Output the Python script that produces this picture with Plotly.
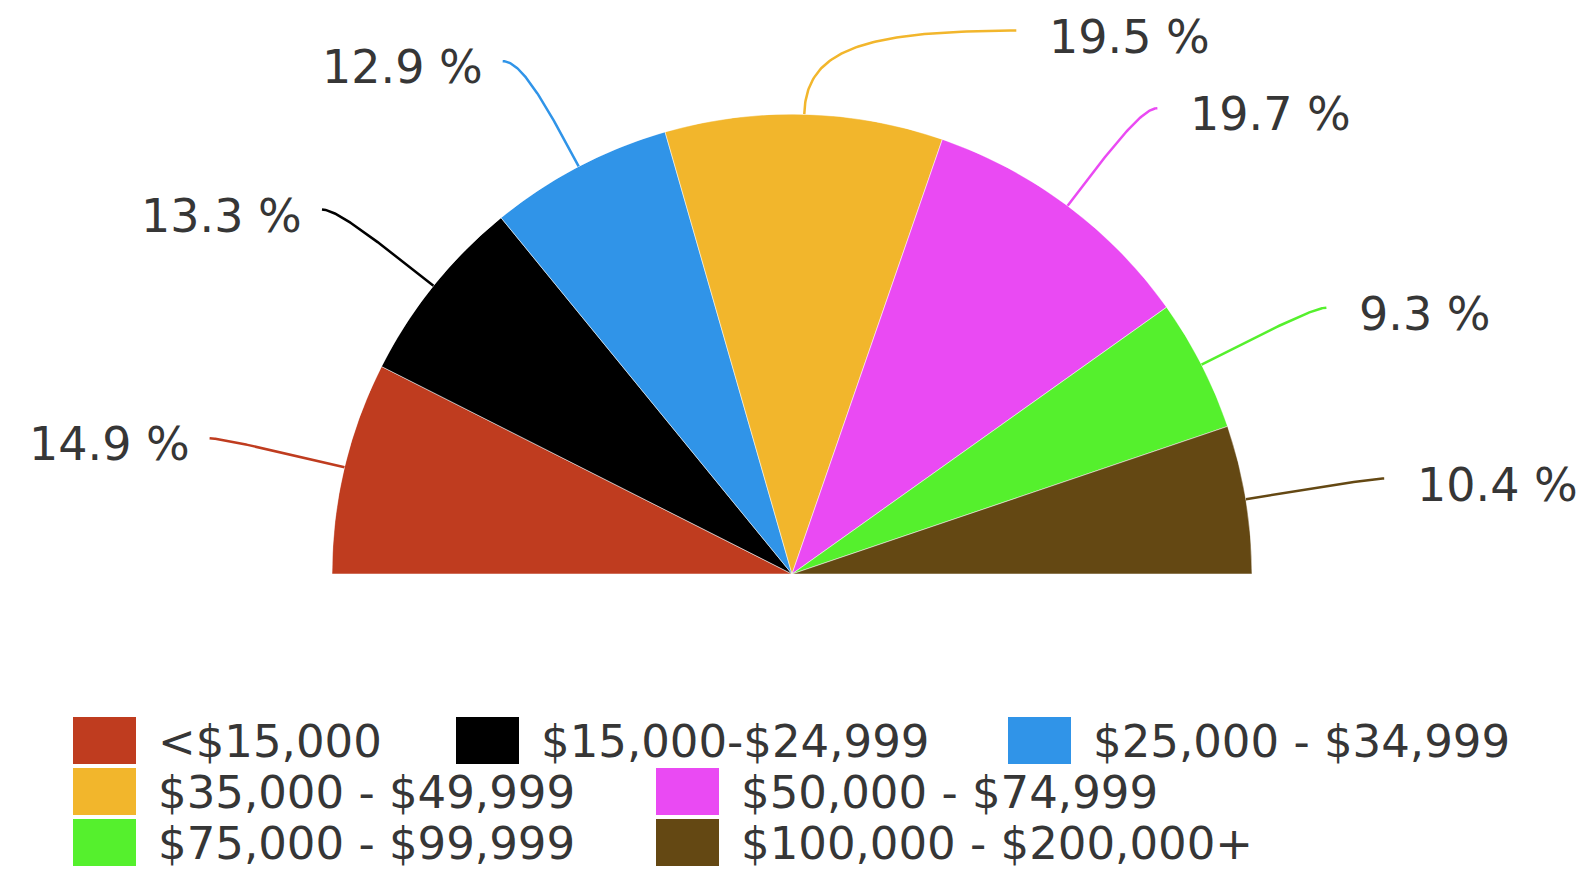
import numpy as np
import plotly.graph_objects as go

# ---------------- data ----------------
categories = ["<$15,000", "$15,000-$24,999", "$25,000 - $34,999", "$35,000 - $49,999",
              "$50,000 - $74,999", "$75,000 - $99,999", "$100,000 - $200,000+"]
shares = [14.9, 13.3, 12.9, 19.5, 19.7, 9.3, 10.4]
colors = ["#BF3C1F", "#000000", "#3094E8", "#F2B62C", "#EA4AF3", "#55F02D", "#644813"]

# ---------------- layout / style constants ----------------
W, H = 1578, 876
CX, CY, R = 792, 574, 460          # pie centre (px from left / top) and radius (px)
LABEL_R = [1.30, 1.293, 1.28, 1.278, 1.287, 1.298, 1.304]   # label anchor radius (pie radii)
LABEL_ANGLE_SHIFT = [0.3, 1.0, 1.8, -20.9, -1.3, -0.6, -0.2]  # de-overlap nudges (deg)
LABEL_GAP = {-1.0: 18, 1.0: 31}     # px between leader end and label text
TEXT_COLOR = "#363636"
FONT = "DejaVu Sans, Verdana, sans-serif"

# legend flow layout: (row, swatch-left px)
LEG_ROW_TOP = [717, 768, 819]
LEG_POS = [(0, 73), (0, 456), (0, 1008), (1, 73), (1, 656), (2, 73), (2, 656)]
SW_W, SW_H = 63, 47

vals = np.array(shares, dtype=float)
span = vals / vals.sum() * 180.0
start = np.concatenate([[0.0], np.cumsum(span)[:-1]])
mid = start + span / 2.0

fig = go.Figure()

# slices (half pie) via barpolar
fig.add_trace(go.Barpolar(
    r=[1.0] * len(vals), theta=mid, width=span,
    marker=dict(color=colors, line=dict(color="rgba(255,255,255,0.5)", width=1)),
    text=categories, hoverinfo="text", showlegend=False,
))

# leader lines + labels on a cartesian overlay scaled in pie radii
annotations = []
for i, v in enumerate(vals):
    phi = np.deg2rad(180.0 - mid[i])
    u = np.array([np.cos(phi), np.sin(phi)])
    p0 = u * 1.0
    phe = np.deg2rad(180.0 - mid[i] + LABEL_ANGLE_SHIFT[i])
    p3 = LABEL_R[i] * np.array([np.cos(phe), np.sin(phe)])
    h = -1.0 if p3[0] < 0 else 1.0
    L = np.linalg.norm(p3 - p0)
    # corner: where the radial ray meets the label's horizontal line
    tc = (p3[1] - p0[1]) / u[1] if abs(u[1]) > 1e-6 else L
    tc = min(max(tc, 0.0), L)
    corner = p0 + u * tc
    if (corner[0] - p3[0]) * h > 0:      # don't pass the label end
        corner[0] = p3[0]
    p1 = p0 + 0.75 * (corner - p0)
    p2 = p3 + 0.75 * (corner - p3)
    t = np.linspace(0, 1, 80)[:, None]
    pts = ((1 - t) ** 3) * p0 + 3 * ((1 - t) ** 2) * t * p1 + 3 * (1 - t) * t ** 2 * p2 + t ** 3 * p3
    fig.add_trace(go.Scatter(x=pts[:, 0], y=pts[:, 1], mode="lines",
                             line=dict(color=colors[i], width=2.5),
                             hoverinfo="skip", showlegend=False))
    annotations.append(dict(
        x=p3[0], y=p3[1], xref="x", yref="y", showarrow=False,
        text=f"{shares[i]} %", xanchor="right" if h < 0 else "left", yanchor="middle",
        xshift=LABEL_GAP[h] * h, yshift=-6,
        font=dict(size=46, color=TEXT_COLOR, family=FONT)))

# custom legend (large swatches)
shapes = []
for i, cat in enumerate(categories):
    row, xl = LEG_POS[i]
    top = LEG_ROW_TOP[row]
    shapes.append(dict(type="rect", xref="paper", yref="paper",
                       x0=xl / W, x1=(xl + SW_W) / W,
                       y0=1 - (top + SW_H) / H, y1=1 - top / H,
                       fillcolor=colors[i], line=dict(width=0)))
    annotations.append(dict(
        x=(xl + SW_W + 20) / W, y=1 - (top + SW_H / 2 + 1) / H,
        xref="paper", yref="paper", showarrow=False,
        text=cat, xanchor="left", yanchor="middle",
        font=dict(size=45, color=TEXT_COLOR, family=FONT)))

fig.update_layout(
    width=W, height=H,
    margin=dict(l=0, r=0, t=0, b=0),
    paper_bgcolor="white", plot_bgcolor="rgba(0,0,0,0)",
    showlegend=False,
    xaxis=dict(domain=[0, 1], range=[-CX / R, (W - CX) / R], visible=False, fixedrange=True),
    yaxis=dict(domain=[0, 1], range=[-(H - CY) / R, CY / R], visible=False, fixedrange=True),
    polar=dict(
        domain=dict(x=[(CX - R) / W, (CX + R) / W], y=[(H - CY) / H, (H - CY + R) / H]),
        sector=[0, 180], bgcolor="rgba(0,0,0,0)", hole=0,
        radialaxis=dict(range=[0, 1], visible=False, showgrid=False, showline=False),
        angularaxis=dict(visible=False, direction="clockwise", rotation=180,
                         showgrid=False, showline=False, showticklabels=False, ticks=""),
    ),
    shapes=shapes,
    annotations=annotations,
)

fig.write_html("out.html")
